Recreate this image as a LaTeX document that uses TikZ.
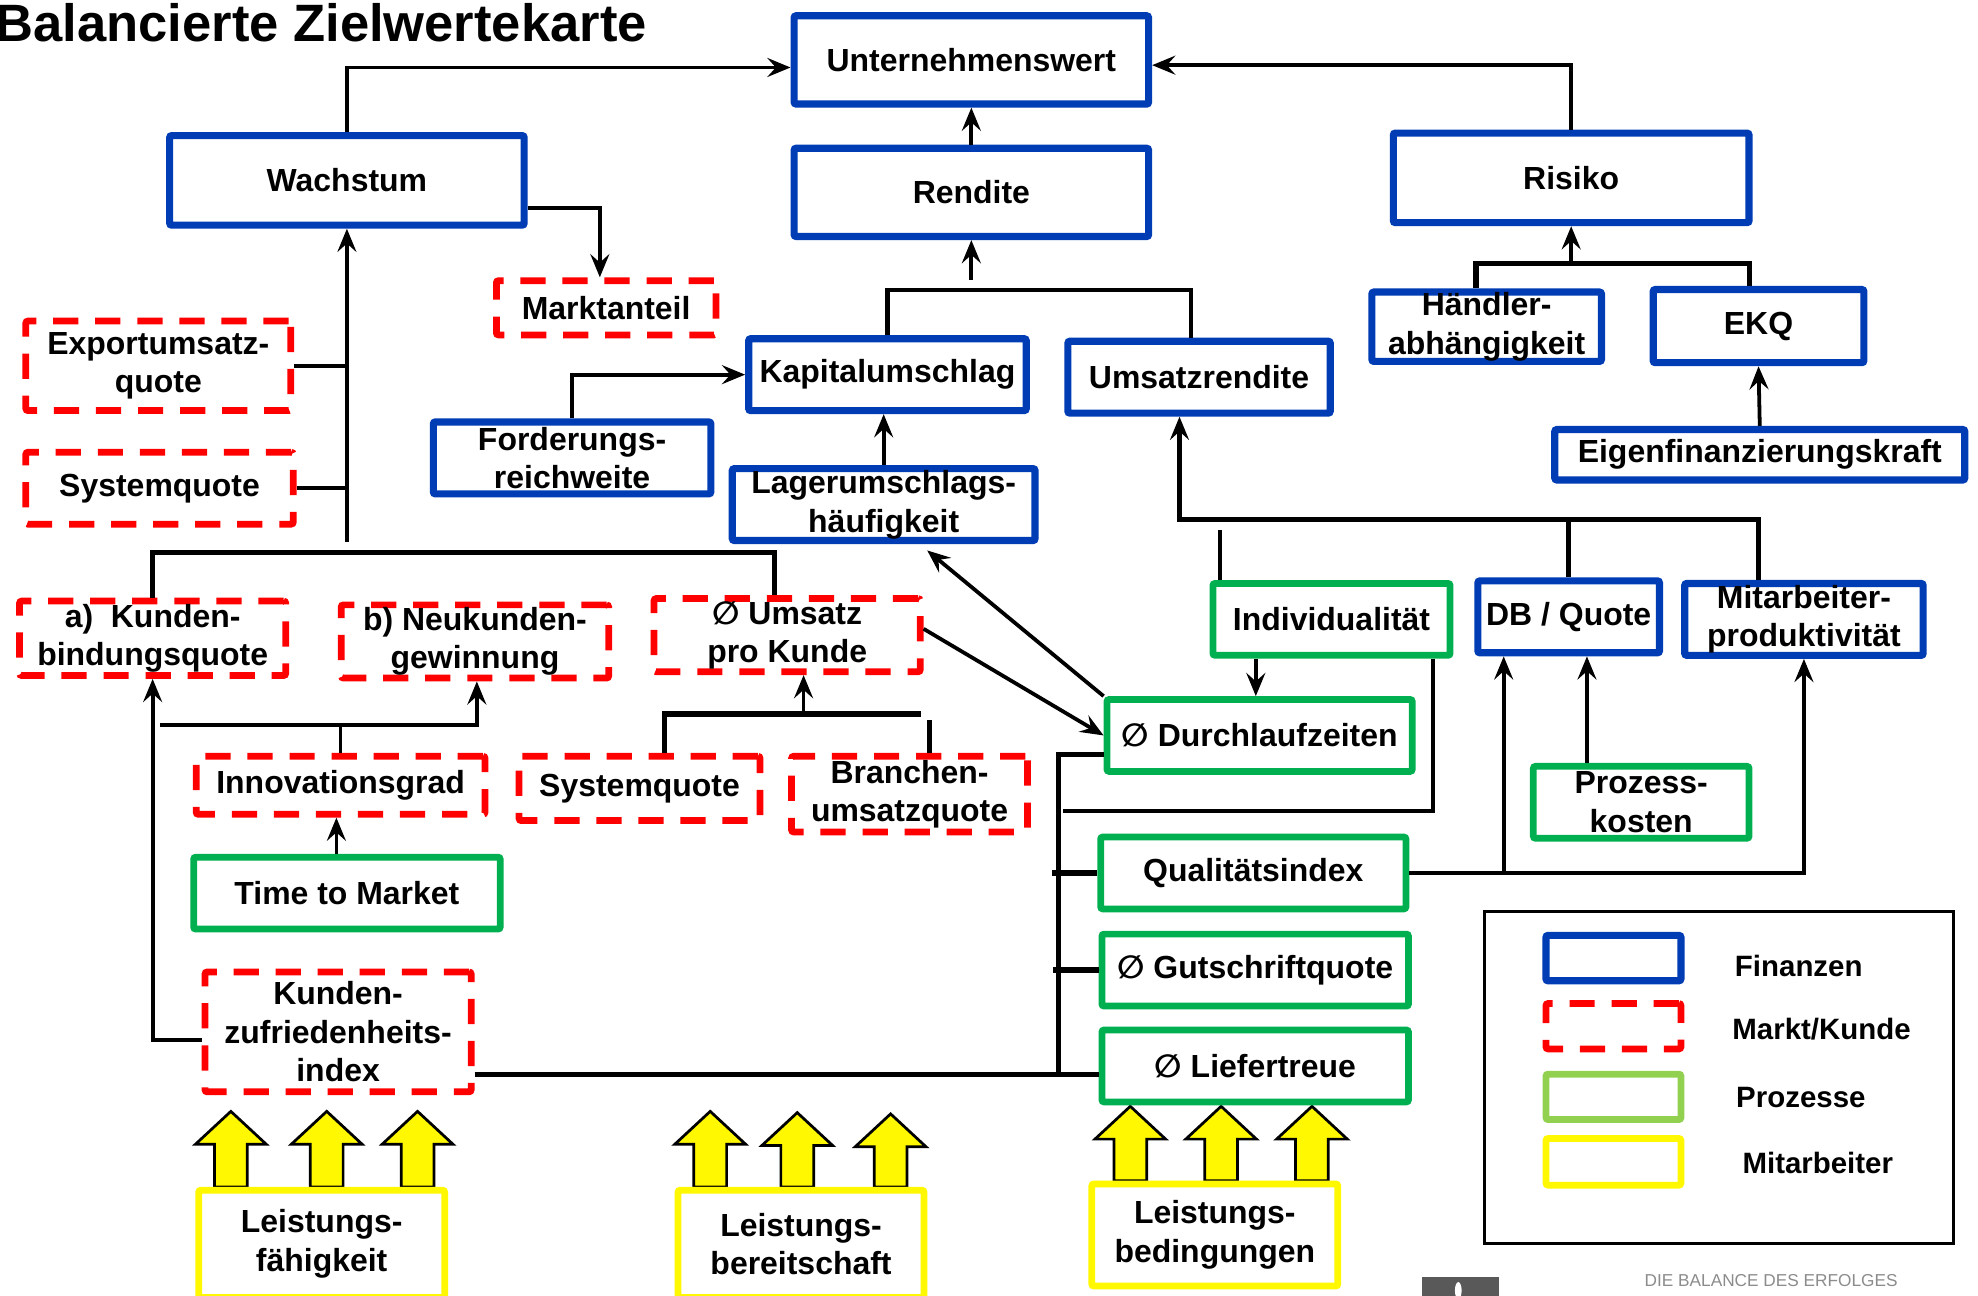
\documentclass[tikz,border=0pt]{standalone}
\usepackage{fontspec}
\setmainfont{Liberation Sans}
\newfontfamily\symfont{DejaVu Sans}
\usetikzlibrary{arrows.meta}
\definecolor{finblue}{RGB}{0,61,181}
\definecolor{mkred}{RGB}{255,0,0}
\definecolor{progreen}{RGB}{0,176,80}
\definecolor{leggreen}{RGB}{146,208,80}
\definecolor{mayellow}{RGB}{255,248,0}
\newcommand{\dm}{{\symfont ∅}}
\newcommand{\mkbox}[7]{\node[#1, minimum width={(#5-#3-5)*0.6pt}, minimum height={(#6-#4-5)*0.6pt}] (#2) at ({(#3+#5)/2},{(#4+#6)/2}) {#7};}
\newcommand{\yarr}[3]{\draw[yarrow] (#1,#2) -- (#1+28,#2+26) -- (#1+13,#2+26) -- (#1+13,#3) -- (#1-13,#3) -- (#1-13,#2+26) -- (#1-28,#2+26) -- cycle;}
\tikzset{
 boxbase/.style={draw, fill=white, align=center, inner sep=0pt, font=\fontsize{15.2}{18.3}\selectfont\bfseries, text=black, rounded corners=1pt},
 fin/.style={boxbase, draw=finblue, line width=3.4pt},
 mkt/.style={boxbase, draw=mkred, line width=3.2pt, dash pattern=on 12pt off 8pt},
 prc/.style={boxbase, draw=progreen, line width=3.2pt},
 legprc/.style={prc, draw=leggreen},
 emp/.style={boxbase, draw=mayellow, line width=3.2pt},
 legbox/.style={draw=black, line width=1.3pt, fill=white, inner sep=0pt},
 conn/.style={draw=black, line width=1.8pt},
 arr/.style={-{Stealth[length=11pt,width=9pt,inset=4pt]}},
 yarrow/.style={fill=mayellow, draw=black, line width=1.3pt, line join=miter},
 legtext/.style={font=\fontsize{14}{16}\selectfont\bfseries, anchor=west, inner sep=0pt},
}
\begin{document}
\begin{tikzpicture}[x=0.6pt,y=-0.6pt]
\useasboundingbox[fill=white] (0,0) rectangle (1568,1027);
% title
\node[anchor=base west, inner sep=0pt, font=\fontsize{25}{30}\selectfont\bfseries] (title) at (-4,33) {Balancierte Zielwertekarte};
% yellow block arrows
\yarr{183}{881}{941}\yarr{259}{881}{941}\yarr{331}{881}{941}
\yarr{563}{881}{941}\yarr{632}{882}{941}\yarr{706}{883}{941}
\yarr{896}{877}{936}\yarr{968}{877}{936}\yarr{1040}{877}{936}
% boxes
\mkbox{fin}{uw}{627}{10}{913}{85}{Unternehmenswert}
\mkbox{fin}{wach}{132}{105}{418}{181}{Wachstum}
\mkbox{fin}{rend}{627}{115}{913}{190}{Rendite}
\mkbox{fin}{risk}{1102}{103}{1389}{179}{Risiko}
\mkbox{mkt}{markt}{391}{220}{570}{268}{Marktanteil}
\mkbox{mkt}{exp}{18}{252}{233}{328}{Exportumsatz-\\quote}
\mkbox{mkt}{sysl}{18}{356}{235}{418}{Systemquote}
\mkbox{fin}{kap}{591}{266}{816}{328}{Kapitalumschlag}
\mkbox{fin}{ur}{844}{268}{1057}{330}{Umsatzrendite}
\mkbox{fin}{hae}{1085}{229}{1272}{289}{Händler-\\abhängigkeit}
\mkbox{fin}{ekq}{1308}{227}{1480}{290}{EKQ}
\mkbox{fin}{eig}{1230}{338}{1560}{383}{Eigenfinanzierungskraft}
\mkbox{fin}{ford}{341}{332}{566}{394}{Forderungs-\\reichweite}
\mkbox{fin}{lag}{578}{369}{823}{431}{Lagerumschlags-\\häufigkeit}
\mkbox{mkt}{ka}{13}{474}{229}{538}{a)\ \ Kunden-\\bindungsquote}
\mkbox{mkt}{kn}{268}{477}{485}{540}{b) Neukunden-\\gewinnung}
\mkbox{mkt}{umk}{516}{472}{732}{535}{\dm{} Umsatz\\pro Kunde}
\mkbox{prc}{ind}{959}{460}{1152}{522}{Individualität}
\mkbox{fin}{db}{1169}{458}{1318}{520}{DB / Quote}
\mkbox{fin}{mit}{1333}{460}{1527}{522}{Mitarbeiter-\\produktivität}
\mkbox{prc}{dlz}{875}{552}{1122}{614}{\dm{} Durchlaufzeiten}
\mkbox{mkt}{inno}{153}{597}{387}{648}{Innovationsgrad}
\mkbox{mkt}{sq2}{409}{597}{605}{653}{Systemquote}
\mkbox{mkt}{br}{625}{597}{817}{662}{Branchen-\\umsatzquote}
\mkbox{prc}{pk}{1213}{605}{1389}{667}{Prozess-\\kosten}
\mkbox{prc}{qual}{870}{661}{1117}{723}{Qualitätsindex}
\mkbox{prc}{ttm}{151}{677}{399}{739}{Time to Market}
\mkbox{prc}{gut}{871}{738}{1119}{800}{\dm{} Gutschriftquote}
\mkbox{mkt}{kzi}{160}{768}{376}{868}{Kunden-\\zufriedenheits-\\index}
\mkbox{prc}{lief}{871}{814}{1119}{876}{\dm{} Liefertreue}
\mkbox{emp}{lf}{155}{941}{355}{1031}{Leistungs-\\fähigkeit}
\mkbox{emp}{lbr}{535}{941}{735}{1031}{Leistungs-\\bereitschaft}
\mkbox{emp}{lbd}{863}{936}{1063}{1022}{Leistungs-\\bedingungen}
% legend
\mkbox{legbox}{legend}{1174}{720}{1551}{988}{}
\mkbox{fin}{lgf}{1223}{739}{1335}{780}{}
\mkbox{mkt}{lgm}{1223}{793}{1335}{834}{}
\mkbox{legprc}{lgp}{1223}{849}{1335}{890}{}
\mkbox{emp}{lgy}{1223}{900}{1335}{942}{}
\node[legtext] (ltf) at (1375,766) {Finanzen};
\node[legtext] (ltm) at (1373,816) {Markt/Kunde};
\node[legtext] (ltp) at (1376,870) {Prozesse};
\node[legtext] (lty) at (1381,922) {Mitarbeiter};
% footer
\fill[black!65] (1127,1012) rectangle (1188,1032);
\fill[white] (1156,1023) ellipse [x radius=1.6pt, y radius=4pt];
\node[text=black!45, font=\fontsize{8.2}{9}\selectfont] (footer) at (1404,1015) {DIE BALANCE DES ERFOLGES};
% connectors
\draw[conn,arr] (wach.north) |- ([yshift=-3.6pt]uw.west);
\draw[conn,arr] (risk.north) |- ([yshift=-2.5pt]uw.east);
\draw[conn,arr] (rend.north) -- (uw.south);
\draw[conn,arr] ([yshift=-13pt]wach.east) -| ([xshift=-3pt]markt.north);
\draw[conn] (exp.east) -- (exp.east -| wach.south);
\draw[conn] (sysl.east) -- (sysl.east -| wach.south);
\coordinate (wbus) at (275,430);
\draw[conn,arr] (wach.south |- wbus) -- (wach.south);
\coordinate (brA) at (614,438);
\draw[conn, line width=2.4pt] (ka.north) |- (brA) -- (brA |- umk.north);
\coordinate (brK) at (944,230);
\draw[conn, line width=2.2pt] (kap.north) |- (brK) -- (brK |- ur.north);
\coordinate (rk) at (770,222);
\draw[conn,arr] (rk) -- (rk |- rend.south);
\draw[conn,arr] (ford.north) |- (kap.west);
\draw[conn,arr] (lag.north) -- (lag.north |- kap.south);
\coordinate (brH) at (1170,209);
\coordinate (brE) at (1387,209);
\draw[conn, line width=2.6pt] (brH |- hae.north) -- (brH) -- (brE) -- (brE |- ekq.north);
\draw[conn,arr] (risk.south |- brH) -- (risk.south);
\draw[conn,arr] (eig.north) -- (ekq.south);
\coordinate (bu1) at (935,412);
\coordinate (bu2) at (1394,412);
\draw[conn, line width=2.4pt, arr] (bu2 |- mit.north) -- (bu2) -- (bu1) -- (bu1 |- ur.south);
\draw[conn, line width=2.4pt] (db.north) -- (db.north |- bu1);
\coordinate (is) at (967,420);
\draw[conn] (is) -- (is |- ind.north);
\draw[conn,arr] ([xshift=-36pt]ind.south) -- ([xshift=-36pt]ind.south |- dlz.north);
\coordinate (ic) at (1136,643);
\coordinate (icl) at (843,643);
\draw[conn, line width=2.2pt] (ic |- ind.south) -- (ic) -- (icl);
\draw[conn,arr] (dlz.north west) -- ([xshift=20.7pt,yshift=-3pt]lag.south);
\draw[conn,arr] ([yshift=3pt]umk.east) -- (dlz.west);
\coordinate (lbT) at (839,598);
\coordinate (lbB) at (839,852);
\draw[conn, line width=2.2pt] (lbT -| dlz.west) -- (lbT) -- (lbB);
\draw[conn, line width=2.6pt] (qual.west) -- +(-36,0);
\draw[conn, line width=2.6pt] (gut.west) -- +(-36,0);
\coordinate (lfl) at (380,852);
\draw[conn, line width=2.2pt] (kzi.east |- lfl) -- (lfl -| lief.west);
\coordinate (qr) at (1430,691);
\coordinate (qd) at (1192,691);
\draw[conn,arr] (qual.east) -- (qr |- qual.east) -- (qr |- mit.south);
\draw[conn,arr] (qd |- qual.east) -- (qd |- db.south);
\coordinate (pd) at (1258,640);
\draw[conn,arr] (pd |- pk.north) -- (pd |- db.south);
\coordinate (ih) at (378,575);
\coordinate (il) at (127,575);
\draw[conn,arr] (inno.north) |- (ih) -- (ih |- kn.south);
\draw[conn] (il) -- (inno.north |- il);
\draw[conn,arr] ([yshift=-4pt]kzi.west) -| (ka.south);
\draw[conn,arr] ([xshift=-5pt]ttm.north) -- ([xshift=-5pt]ttm.north |- inno.south);
\coordinate (s1) at (527,566);
\coordinate (s2) at (730,566);
\coordinate (s3) at (637,566);
\coordinate (s4) at (737,571);
\draw[conn, line width=2.4pt] (s1 |- sq2.north) -- (s1) -- (s2);
\draw[conn, line width=2.4pt] (s4) -- (s4 |- br.north);
\draw[conn,arr] (s3) -- (s3 |- umk.south);
\end{tikzpicture}
\end{document}
